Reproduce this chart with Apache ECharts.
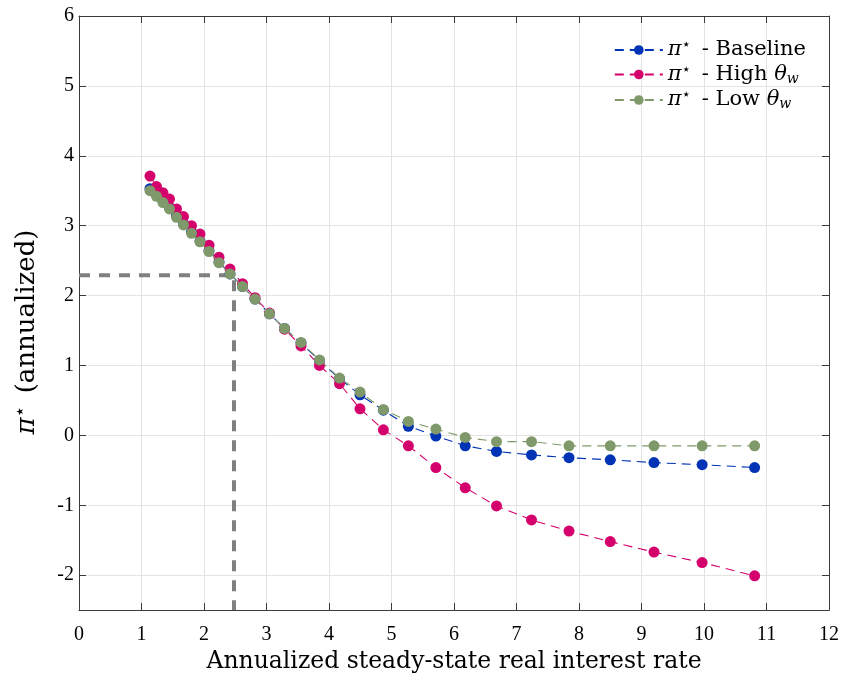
<!DOCTYPE html>
<html>
<head>
<meta charset="utf-8">
<script src="https://cdn.jsdelivr.net/npm/echarts@6/dist/echarts.min.js"></script>
<style>html,body{margin:0;padding:0;background:#fff}#c{width:847px;height:679px}</style>
</head>
<body>
<div id="c"></div>
<script>
const rate = [1.136, 1.24, 1.344, 1.448, 1.56, 1.672, 1.80, 1.936, 2.08, 2.24, 2.416, 2.616, 2.816, 3.048, 3.288, 3.552, 3.848, 4.168, 4.496, 4.87, 5.27, 5.71, 6.18, 6.68, 7.24, 7.84, 8.50, 9.20, 9.97, 10.81];
const baseline = [3.53, 3.44, 3.35, 3.26, 3.14, 3.03, 2.91, 2.78, 2.64, 2.48, 2.31, 2.13, 1.95, 1.74, 1.53, 1.32, 1.07, 0.81, 0.58, 0.36, 0.13, -0.01, -0.15, -0.23, -0.28, -0.32, -0.35, -0.39, -0.42, -0.46];
const highTheta = [3.71, 3.56, 3.47, 3.38, 3.24, 3.13, 3.00, 2.88, 2.72, 2.55, 2.38, 2.17, 1.97, 1.75, 1.52, 1.28, 1.00, 0.74, 0.38, 0.08, -0.15, -0.46, -0.75, -1.01, -1.21, -1.37, -1.52, -1.67, -1.82, -2.01];
const lowTheta = [3.50, 3.42, 3.33, 3.24, 3.12, 3.01, 2.89, 2.77, 2.63, 2.47, 2.31, 2.13, 1.95, 1.74, 1.53, 1.33, 1.08, 0.82, 0.62, 0.37, 0.20, 0.09, -0.03, -0.09, -0.09, -0.15, -0.15, -0.15, -0.15, -0.15];
const refLineX = [0, 2.48, 2.48];
const refLineY = [2.29, 2.29, -2.5];
const seriesNames = ['Baseline', 'High', 'Low'];
const legendLabels = ['{i|π}{sup|⋆}{n| - Baseline}', '{i|π}{sup|⋆}{n| - High }{i|θ}{sub|w}', '{i|π}{sup|⋆}{n| - Low }{i|θ}{sub|w}'];
const colors = ['#0033b5', '#d4006c', '#80996a'];
const values = [baseline, highTheta, lowTheta];

const FONT = 'Liberation Serif';
const NFONT = 'DejaVu Serif';
function richSet(size) {
  return {
    i: {fontFamily: NFONT, fontStyle: 'italic', fontSize: size, color: '#000'},
    sup: {fontFamily: 'DejaVu Sans', fontSize: Math.round(size * 0.72), color: '#000', padding: [0, 4, Math.round(size * 0.45), 0]},
    sub: {fontFamily: NFONT, fontStyle: 'italic', fontSize: Math.round(size * 0.65), color: '#000', padding: [Math.round(size * 0.45), 0, 0, 0]},
    n: {fontFamily: NFONT, fontSize: size, color: '#000'}
  };
}

const chart = echarts.init(document.getElementById('c'), null, {renderer: 'canvas'});
const axisLineColor = '#3a3a3a';
const series = values.map((v, k) => ({
  name: seriesNames[k],
  type: 'line',
  data: rate.map((x, j) => [x, v[j]]),
  symbol: 'circle',
  symbolSize: 11,
  showSymbol: true,
  itemStyle: {color: colors[k], borderWidth: 0},
  lineStyle: {color: colors[k], width: 1.1, type: [9, 6]},
  z: 3 + k,
  animation: false
}));
series.unshift({
  name: 'ref',
  type: 'line',
  data: refLineX.map((x, j) => [x, refLineY[j]]),
  symbol: 'none',
  lineStyle: {color: '#808080', width: 4, type: [11, 9]},
  z: 2,
  silent: true,
  animation: false
});

chart.setOption({
  animation: false,
  backgroundColor: '#fff',
  grid: {left: 79, right: 18, top: 16, bottom: 68, containLabel: false},
  legend: {
    data: seriesNames,
    right: 36, top: 33,
    orient: 'vertical',
    itemWidth: 48, itemHeight: 12, itemGap: 2,
    formatter: name => legendLabels[seriesNames.indexOf(name)],
    textStyle: {fontFamily: NFONT, fontSize: 21, color: '#000', rich: richSet(21)}
  },
  xAxis: [{
    type: 'value', min: 0, max: 12, interval: 1,
    name: 'Annualized steady-state real interest rate',
    nameLocation: 'middle', nameGap: 39,
    nameTextStyle: {fontFamily: NFONT, fontSize: 23.5, color: '#000'},
    axisLine: {show: true, onZero: false, lineStyle: {color: axisLineColor, width: 1}},
    axisTick: {show: true, inside: true, length: 7, lineStyle: {color: axisLineColor}},
    axisLabel: {fontFamily: FONT, fontSize: 20, color: '#000', margin: 15},
    splitLine: {show: true, lineStyle: {color: '#e3e3e3', width: 1}}
  }, {
    type: 'value', min: 0, max: 12, interval: 1, position: 'top',
    axisLine: {show: true, onZero: false, lineStyle: {color: axisLineColor, width: 1}},
    axisTick: {show: true, inside: true, length: 7, lineStyle: {color: axisLineColor}},
    axisLabel: {show: false}, splitLine: {show: false}
  }],
  yAxis: [{
    type: 'value', min: -2.5, max: 6, splitNumber: 8,
    name: '{i|π}{sup|⋆}{n| (annualized)}',
    nameLocation: 'middle', nameGap: 36, nameRotate: 90,
    nameTextStyle: {fontFamily: NFONT, fontSize: 26, color: '#000', padding: [0, 38, 0, 0], rich: richSet(26)},
    axisLine: {show: true, onZero: false, lineStyle: {color: axisLineColor, width: 1}},
    axisTick: {show: true, inside: true, length: 7, lineStyle: {color: axisLineColor}},
    axisLabel: {fontFamily: FONT, fontSize: 20, color: '#000', margin: 5, showMinLabel: false,
      formatter: v => (Math.abs(v - Math.round(v)) < 1e-9 ? String(Math.round(v)) : '')},
    splitLine: {show: true, lineStyle: {color: '#e3e3e3', width: 1}}
  }, {
    type: 'value', min: -2.5, max: 6, splitNumber: 8, position: 'right',
    axisLine: {show: true, onZero: false, lineStyle: {color: axisLineColor, width: 1}},
    axisTick: {show: true, inside: true, length: 7, lineStyle: {color: axisLineColor}},
    axisLabel: {show: false}, splitLine: {show: false}
  }],
  series: series
});
</script>
</body>
</html>
